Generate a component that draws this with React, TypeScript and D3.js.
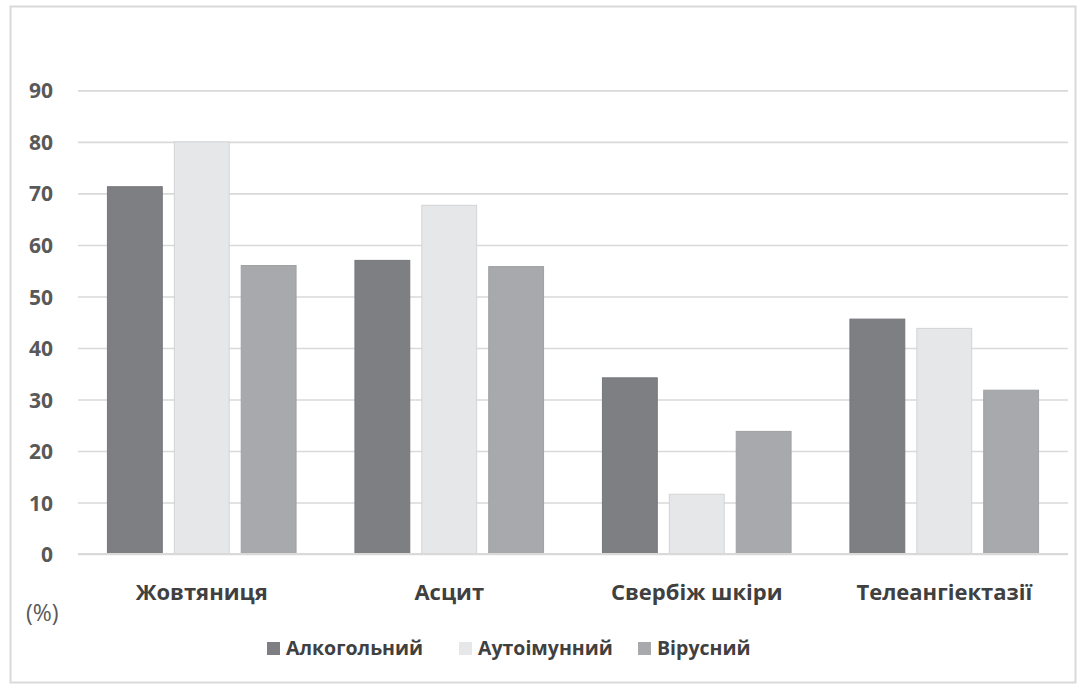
import * as d3 from 'd3';
import { useEffect, useRef } from 'react';

const categories = ['Жовтяниця', 'Асцит', 'Свербіж шкіри', 'Телеангіектазії'];
const seriesNames = ['Алкогольний', 'Аутоімунний', 'Вірусний'];
const alcoholic = [71.3, 57, 34.2, 45.6];
const autoimmune = [80, 67.7, 11.6, 43.8];
const viral = [56, 55.8, 23.8, 31.8];
const yTicks = [0, 10, 20, 30, 40, 50, 60, 70, 80, 90];

const colors = ['#7e7f83', '#e6e7e9', '#a8a9ac'];
const strokes = ['#76777b', '#d2d3d5', '#9fa0a3'];

function App() {
    const svgRef = useRef<SVGSVGElement>(null);

    useEffect(() => {
        document.body.style.margin = '0';
        const w = 1084;
        const h = 686;
        const left = 78;
        const right = 1068;
        const top = 90.4;
        const bottom = 554;
        const font = "'Open Sans', 'DejaVu Sans', sans-serif";

        const svg = d3.select(svgRef.current);
        svg.selectAll('*').remove();
        svg.attr('width', w).attr('height', h);

        svg.append('rect')
            .attr('x', 0).attr('y', 0).attr('width', w).attr('height', h)
            .attr('fill', '#ffffff');

        svg.append('rect')
            .attr('x', 10.5).attr('y', 6.5).attr('width', 1065).attr('height', 676)
            .attr('fill', 'none')
            .attr('stroke', '#d9d9d9')
            .attr('stroke-width', 2);

        const series = [alcoholic, autoimmune, viral];

        const x0 = d3.scaleBand<string>().domain(categories).range([left, right]);
        const x1 = d3.scaleBand<number>()
            .domain([0, 1, 2])
            .range([0, x0.bandwidth()])
            .paddingInner(0.18)
            .paddingOuter(0.44);
        const y = d3.scaleLinear().domain([0, 90]).range([bottom, top]);

        // gridlines + y labels
        const yAxis = svg.append('g')
            .attr('transform', `translate(${left},0)`)
            .call(d3.axisLeft(y).tickValues(yTicks).tickSize(-(right - left)).tickPadding(25));
        yAxis.select('.domain').remove();
        yAxis.selectAll('.tick line')
            .attr('stroke', '#d9d9d9')
            .attr('stroke-width', 1.6);
        yAxis.selectAll('.tick text')
            .attr('fill', '#595959')
            .attr('dy', '0.36em')
            .style('font-family', font)
            .style('font-size', '21px')
            .style('font-weight', 700);

        // bars
        categories.forEach((cat, ci) => {
            const g = svg.append('g').attr('transform', `translate(${x0(cat)},0)`);
            series.forEach((vals, si) => {
                g.append('rect')
                    .attr('x', x1(si)!)
                    .attr('y', y(vals[ci]))
                    .attr('width', x1.bandwidth())
                    .attr('height', bottom - y(vals[ci]))
                    .attr('fill', colors[si])
                    .attr('stroke', strokes[si])
                    .attr('stroke-width', 1);
            });
        });

        // baseline
        svg.append('line')
            .attr('x1', left).attr('x2', right)
            .attr('y1', bottom).attr('y2', bottom)
            .attr('stroke', '#d9d9d9')
            .attr('stroke-width', 2);

        // category labels
        const xAxis = svg.append('g')
            .attr('transform', `translate(0,${bottom})`)
            .call(d3.axisBottom(x0).tickSize(0).tickPadding(30));
        xAxis.select('.domain').remove();
        xAxis.selectAll('.tick text')
            .attr('fill', '#404040')
            .style('font-family', font)
            .style('font-size', '22px')
            .style('font-weight', 700);

        svg.append('text')
            .attr('x', 26)
            .attr('y', 621)
            .attr('fill', '#595959')
            .style('font-family', font)
            .style('font-size', '23px')
            .text('(%)');

        // legend
        const legendX = [267, 459, 638];
        seriesNames.forEach((name, i) => {
            const lg = svg.append('g').attr('transform', `translate(${legendX[i]},642)`);
            lg.append('rect')
                .attr('x', 0).attr('y', 0).attr('width', 13).attr('height', 13)
                .attr('fill', colors[i]);
            lg.append('text')
                .attr('x', 19)
                .attr('y', 13)
                .attr('fill', '#404040')
                .style('font-family', font)
                .style('font-size', '19.5px')
                .style('font-weight', 700)
                .text(name);
        });
    }, []);

    return <svg ref={svgRef}></svg>;
}

export default App;
